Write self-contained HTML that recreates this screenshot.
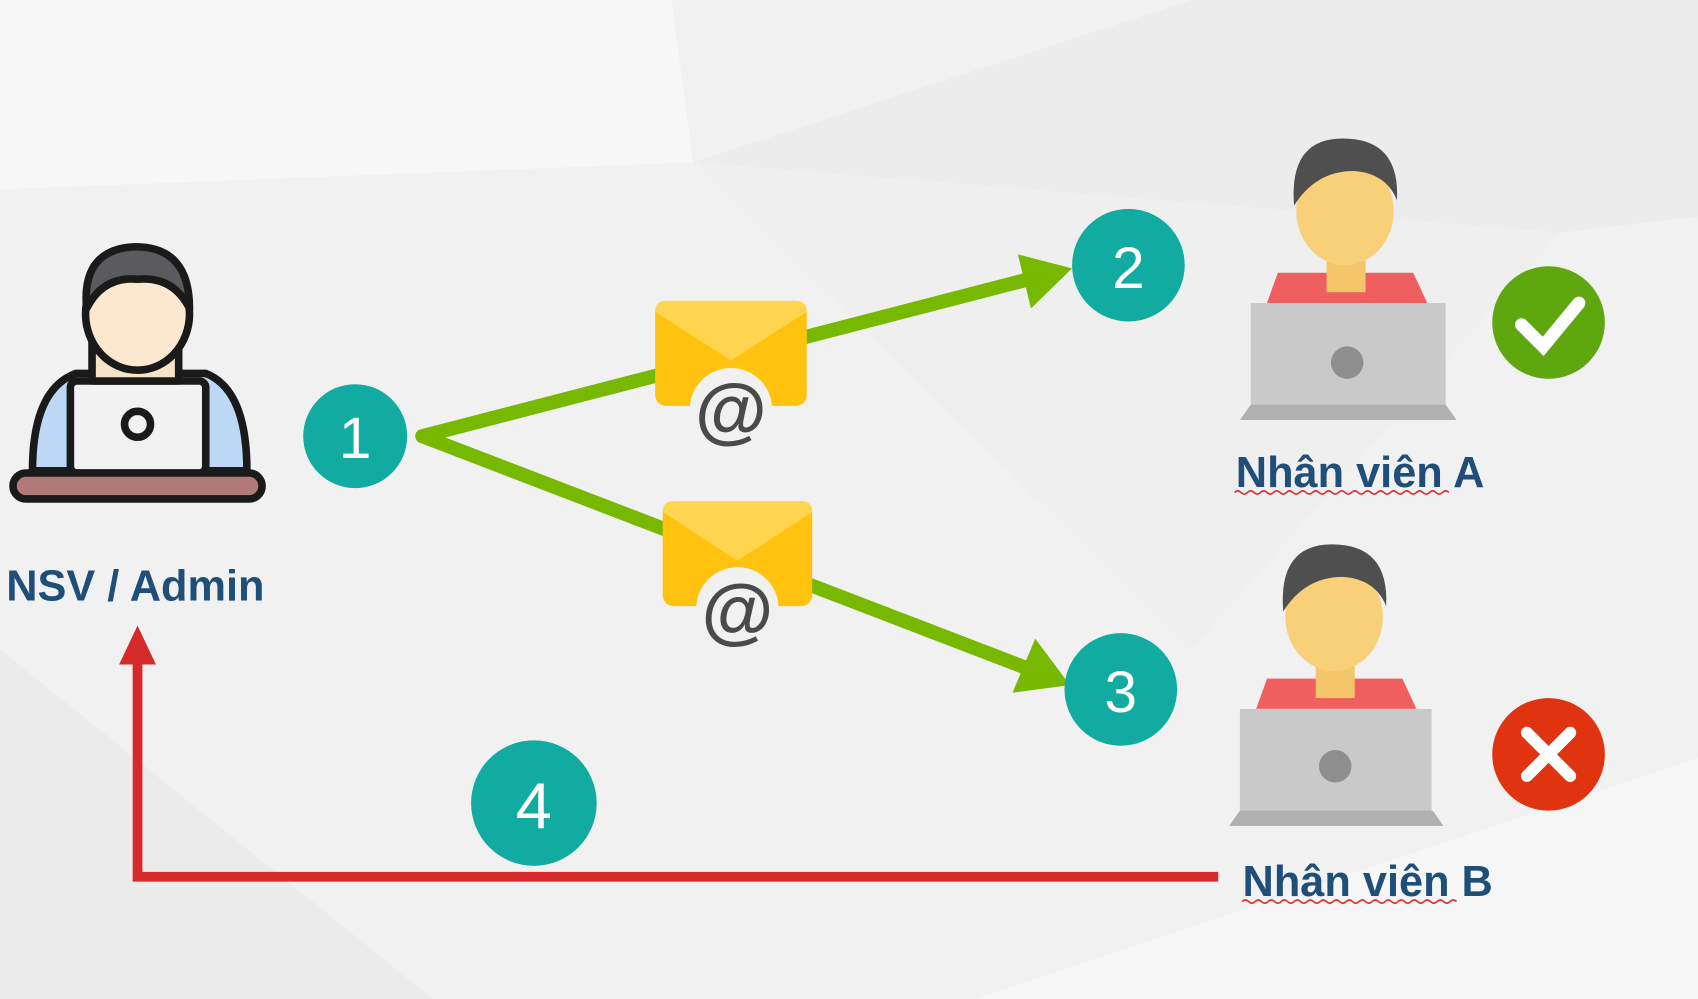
<!DOCTYPE html>
<html><head><meta charset="utf-8"><style>
html,body{margin:0;padding:0;background:#f2f2f2;}
svg{display:block}
text{font-family:"Liberation Sans",sans-serif;}
</style></head><body>
<svg width="1698" height="999" viewBox="0 0 1568 923" preserveAspectRatio="none" xmlns="http://www.w3.org/2000/svg">
<rect width="1568" height="923" fill="#f1f1f1"/>
<polygon points="0,0 620,0 640,150 0,175" fill="#f7f7f7"/>
<polygon points="640,150 1100,0 1568,0 1568,200 1440,215" fill="#ececec"/>
<polygon points="0,600 400,923 0,923" fill="#ebebeb"/>
<polygon points="900,923 1568,700 1568,923" fill="#f6f6f6"/>
<polygon points="640,150 1100,600 1440,215" fill="#efefef"/>

<!-- Admin icon -->
<g stroke="#1a1a1a" stroke-width="7" stroke-linejoin="round">
  <path d="M30,435 Q30,360 70,345 L190,345 Q228,360 228,435 Z" fill="#bcd8f5"/>
  <rect x="65" y="352" width="125" height="85" rx="6" fill="#f2f2f2"/>
  <circle cx="127" cy="392" r="12" fill="#f2f2f2"/>
  <rect x="12" y="437" width="230" height="24" rx="12" fill="#b07a78"/>
  <rect x="85" y="310" width="80" height="42" fill="#f6e3c8"/>
  <ellipse cx="127" cy="290" rx="48" ry="52" fill="#fbe8cf"/>
  <path d="M80,285 Q75,230 125,228 Q175,228 175,285 Q160,255 127,258 Q95,255 80,285 Z" fill="#5b5a5f"/>
</g>
<text x="125" y="555" font-size="40" font-weight="bold" fill="#1f4e79" text-anchor="middle">NSV / Admin</text>

<!-- green arrows -->
<g stroke="#76b900" stroke-width="13" fill="none" stroke-linecap="round">
  <line x1="390" y1="403" x2="950" y2="258"/>
  <line x1="390" y1="403" x2="950" y2="618"/>
</g>
<polygon points="990,248 940,235 952,285" fill="#76b900"/>
<polygon points="988,633 935,640 956,590" fill="#76b900"/>

<!-- envelopes -->
<g>
  <rect x="605" y="278" width="140" height="97" rx="10" fill="#ffc20e"/>
  <path d="M605,288 Q605,278 615,278 L735,278 Q745,278 745,288 L675,333 Z" fill="#ffd54f"/>
  <circle cx="675" cy="378" r="38" fill="#f1f1f1"/>
  <text x="675" y="402" font-size="68" font-weight="bold" fill="#4a4a4a" text-anchor="middle">@</text>
  <rect x="612" y="463" width="138" height="97" rx="10" fill="#ffc20e"/>
  <path d="M612,473 Q612,463 622,463 L740,463 Q750,463 750,473 L681,518 Z" fill="#ffd54f"/>
  <circle cx="681" cy="562" r="38" fill="#f1f1f1"/>
  <text x="681" y="587" font-size="68" font-weight="bold" fill="#4a4a4a" text-anchor="middle">@</text>
</g>

<!-- number circles -->
<g fill="#12aba1">
  <circle cx="328" cy="403" r="48"/>
  <circle cx="1042" cy="245" r="52"/>
  <circle cx="1035" cy="637" r="52"/>
  <circle cx="493" cy="742" r="58"/>
</g>
<g fill="#fff" font-size="54" text-anchor="middle">
  <text x="328" y="423">1</text>
  <text x="1042" y="266">2</text>
  <text x="1035" y="658">3</text>
  <text x="493" y="765" font-size="60">4</text>
</g>

<!-- person A -->
<g>
  <path d="M1170,280 L1180,252 L1305,252 L1318,280 Z" fill="#ef5f5f"/>
  <rect x="1225" y="240" width="36" height="30" fill="#f5c56a"/>
  <ellipse cx="1242" cy="195" rx="45" ry="50" fill="#f8d07a"/>
  <path d="M1195,190 Q1190,128 1240,128 Q1293,128 1290,185 Q1280,160 1250,158 Q1215,158 1195,190 Z" fill="#4f4f4f"/>
  <rect x="1155" y="280" width="180" height="100" fill="#c9c9c9"/>
  <polygon points="1145,388 1345,388 1335,374 1155,374" fill="#b0b0b0"/>
  <circle cx="1244" cy="335" r="15" fill="#8e8e8e"/>
</g>
<text x="1256" y="450" font-size="40" font-weight="bold" fill="#1f4e79" text-anchor="middle">Nhân viên A</text>
<path d="M1140,455 q3,-3 6,0 t6,0 t6,0 t6,0 t6,0 t6,0 t6,0 t6,0 t6,0 t6,0 t6,0 t6,0 t6,0 t6,0 t6,0 t6,0 t6,0 t6,0 t6,0 t6,0 t6,0 t6,0 t6,0 t6,0 t6,0 t6,0 t6,0 t6,0 t6,0 t6,0 t6,0 t6,0 t6,0" stroke="#d33" stroke-width="1.5" fill="none"/>
<circle cx="1430" cy="298" r="52" fill="#5ea70f"/>
<path d="M1405,300 L1425,320 L1458,280" stroke="#fff" stroke-width="12" fill="none" stroke-linecap="round"/>

<!-- person B -->
<g>
  <path d="M1160,655 L1170,627 L1295,627 L1308,655 Z" fill="#ef5f5f"/>
  <rect x="1215" y="615" width="36" height="30" fill="#f5c56a"/>
  <ellipse cx="1232" cy="570" rx="45" ry="50" fill="#f8d07a"/>
  <path d="M1185,565 Q1180,503 1230,503 Q1283,503 1280,560 Q1270,535 1240,533 Q1205,533 1185,565 Z" fill="#4f4f4f"/>
  <rect x="1145" y="655" width="177" height="100" fill="#c9c9c9"/>
  <polygon points="1135,763 1333,763 1323,749 1145,749" fill="#b0b0b0"/>
  <circle cx="1233" cy="708" r="15" fill="#8e8e8e"/>
</g>
<text x="1263" y="828" font-size="40" font-weight="bold" fill="#1f4e79" text-anchor="middle">Nhân viên B</text>
<path d="M1147,833 q3,-3 6,0 t6,0 t6,0 t6,0 t6,0 t6,0 t6,0 t6,0 t6,0 t6,0 t6,0 t6,0 t6,0 t6,0 t6,0 t6,0 t6,0 t6,0 t6,0 t6,0 t6,0 t6,0 t6,0 t6,0 t6,0 t6,0 t6,0 t6,0 t6,0 t6,0 t6,0 t6,0 t6,0" stroke="#d33" stroke-width="1.5" fill="none"/>
<circle cx="1430" cy="697" r="52" fill="#e0330f"/>
<path d="M1410,677 L1450,717 M1450,677 L1410,717" stroke="#fff" stroke-width="11" stroke-linecap="round"/>

<!-- red return arrow -->
<polyline points="1125,810 127,810 127,605" stroke="#d42a2a" stroke-width="9" fill="none"/>
<polygon points="127,578 110,614 144,614" fill="#d42a2a"/>
</svg>
</body></html>
